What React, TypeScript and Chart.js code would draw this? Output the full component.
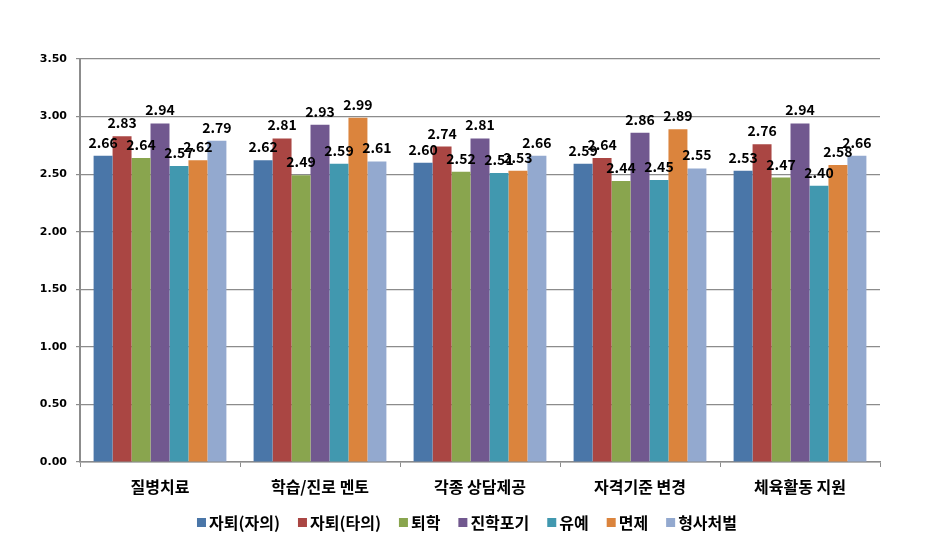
import React, { useEffect, useRef } from "react";
import { Chart, registerables } from "chart.js";

Chart.register(...registerables);

const categories = ["질병치료", "학습/진로 멘토", "각종 상담제공", "자격기준 변경", "체육활동 지원"];
const seriesNames = ["자퇴(자의)", "자퇴(타의)", "퇴학", "진학포기", "유예", "면제", "형사처벌"];
const s1 = [2.66, 2.62, 2.60, 2.59, 2.53];
const s2 = [2.83, 2.81, 2.74, 2.64, 2.76];
const s3 = [2.64, 2.49, 2.52, 2.44, 2.47];
const s4 = [2.94, 2.93, 2.81, 2.86, 2.94];
const s5 = [2.57, 2.59, 2.51, 2.45, 2.40];
const s6 = [2.62, 2.99, 2.53, 2.89, 2.58];
const s7 = [2.79, 2.61, 2.66, 2.55, 2.66];
const colors = ["#4A76A8", "#AA4643", "#89A54E", "#71588F", "#4198AF", "#DB843D", "#93A9CF"];
const yTicks = [0, 0.5, 1, 1.5, 2, 2.5, 3, 3.5];

const FONT = "'Noto Sans CJK KR', 'Noto Sans', sans-serif";

const labelPlugin = {
  id: "barLabels",
  afterDatasetsDraw(chart: any) {
    const ctx = chart.ctx;
    ctx.save();
    ctx.font = `bold 14px ${FONT}`;
    ctx.fillStyle = "#000";
    ctx.textAlign = "center";
    ctx.textBaseline = "alphabetic";
    chart.data.datasets.forEach((ds: any, i: number) => {
      const meta = chart.getDatasetMeta(i);
      meta.data.forEach((bar: any, j: number) => {
        ctx.fillText(Number(ds.data[j]).toFixed(2), bar.x, bar.y - 8);
      });
    });
    ctx.restore();
  },
};

const legendPlugin = {
  id: "customLegend",
  afterDraw(chart: any) {
    const ctx = chart.ctx;
    ctx.save();
    ctx.font = `bold 16px ${FONT}`;
    ctx.textBaseline = "middle";
    ctx.textAlign = "left";
    const box = 9;
    const gap = 3;
    const itemGap = 18;
    const widths = seriesNames.map((n) => ctx.measureText(n).width);
    const total =
      widths.reduce((a, w) => a + box + gap + w, 0) + itemGap * (seriesNames.length - 1);
    let x = 467 - total / 2;
    const cy = 523;
    seriesNames.forEach((n, i) => {
      ctx.fillStyle = colors[i];
      ctx.fillRect(x, cy - 5, box, box);
      x += box + gap;
      ctx.fillStyle = "#000";
      ctx.fillText(n, x, cy);
      x += widths[i] + itemGap;
    });
    ctx.restore();
  },
};

export default function App() {
  const ref = useRef<HTMLCanvasElement>(null);
  useEffect(() => {
    document.body.style.margin = "0";
    const all = [s1, s2, s3, s4, s5, s6, s7];
    const chart = new Chart(ref.current!, {
      type: "bar",
      data: {
        labels: categories,
        datasets: all.map((d, i) => ({
          label: seriesNames[i],
          data: d,
          backgroundColor: colors[i],
          borderWidth: 0,
          categoryPercentage: 0.83,
          barPercentage: 1.0,
        })),
      },
      options: {
        animation: false,
        responsive: false,
        layout: { padding: { top: 59, right: 48, left: 0, bottom: 0 } },
        plugins: {
          tooltip: { enabled: false },
          legend: { display: false },
        },
        scales: {
          x: {
            grid: {
              offset: true,
              drawOnChartArea: false,
              drawTicks: true,
              tickLength: 5,
              color: "#8c8c8c",
            },
            border: { color: "#8c8c8c", width: 1.5 },
            ticks: {
              color: "#000",
              padding: 10,
              font: { family: FONT, size: 16, weight: "bold" },
              maxRotation: 0,
            },
            afterFit(scale: any) {
              scale.height = 87;
            },
          },
          y: {
            min: 0,
            max: 3.5,
            afterBuildTicks(scale: any) {
              scale.ticks = yTicks.map((v) => ({ value: v }));
            },
            grid: {
              color: "#8c8c8c",
              tickLength: 4,
              lineWidth: 1.2,
            },
            border: { color: "#8c8c8c", width: 2 },
            ticks: {
              color: "#000",
              padding: 9,
              font: { family: "'DejaVu Sans', sans-serif", size: 11, weight: "bold" },
              callback: (v: any) => Number(v).toFixed(2),
            },
            afterFit(scale: any) {
              scale.width = 80;
            },
          },
        },
      },
      plugins: [labelPlugin, legendPlugin],
    } as any);
    return () => chart.destroy();
  }, []);
  return (
    <div style={{ width: 928, height: 549 }}>
      <canvas ref={ref} width={928} height={549} style={{ display: "block" }} />
    </div>
  );
}
